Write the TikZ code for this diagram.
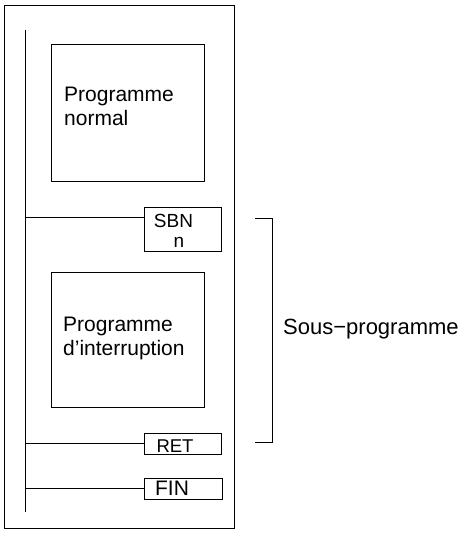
\documentclass[tikz,border=0pt]{standalone}
\usepackage{fontspec}
\setmainfont{Liberation Sans}
\usetikzlibrary{positioning, calc}

\begin{document}
\begin{tikzpicture}[
    x=1pt, y=-1pt,
    frame/.style={rectangle, draw=black, line width=1pt, inner sep=0pt},
    prog/.style={rectangle, draw=black, line width=1pt, inner sep=0pt, minimum width=153pt},
    instr/.style={rectangle, draw=black, line width=1pt, inner sep=0pt, minimum width=77pt, minimum height=21pt},
    progtext/.style={align=left, inner sep=0pt, font=\fontsize{21}{24}\selectfont},
    instrtext/.style={align=center, inner sep=0pt, font=\fontsize{19}{20}\selectfont},
    wire/.style={draw=black, line width=1pt}
  ]
  \useasboundingbox (0,0) rectangle (459,534);

  \node[frame, minimum width=230pt, minimum height=522pt] (frame) at (119,267) {};

  \coordinate (railtop) at (25,30);
  \coordinate (railbot) at (25,512);
  \draw[wire] (railtop) -- (railbot);

  \node[prog, minimum height=137pt] (normal) at (127.5,113.5) {};
  \node[progtext, anchor=base west] (normaltxt) at (64,126) {Programme\\normal};

  \node[instr, minimum height=43pt] (sbn) at (182.5,229.5) {};
  \node[instrtext, anchor=base] (sbntxt) at (173.5,227) {SBN};
  \node[instrtext, anchor=base] (ntxt) at (179,247) {n};

  \node[prog, minimum height=135pt] (interrupt) at (127.5,339.5) {};
  \node[progtext, anchor=base west] (interrupttxt) at (63,355) {Programme\\d’interruption};

  \node[instr] (ret) at (182.5,443.5) {};
  \node[instrtext, anchor=base, font=\fontsize{18.5}{20}\selectfont] (rettxt) at (175,452) {RET};

  \node[instr, minimum width=78pt] (fin) at (183,488.5) {};
  \node[instrtext, anchor=base, font=\fontsize{21}{22}\selectfont] (fintxt) at (172,495) {FIN};

  % rungs from the rail
  \coordinate (sbnin) at ($(sbn.north west)+(0,10)$);
  \draw[wire] (sbnin) -- (sbnin -| railtop);
  \draw[wire] (ret.west) -- (ret.west -| railtop);
  \draw[wire] (fin.west) -- (fin.west -| railtop);

  % bracket
  \coordinate (brtop) at (255,219);
  \coordinate (brbot) at (255,442);
  \draw[wire] (brtop) -- ++(17,0) |- (brbot);
  \node[anchor=base west, inner sep=0pt, font=\fontsize{22}{24}\selectfont] (sous) at (283,334) {Sous−programme};
\end{tikzpicture}
\end{document}
